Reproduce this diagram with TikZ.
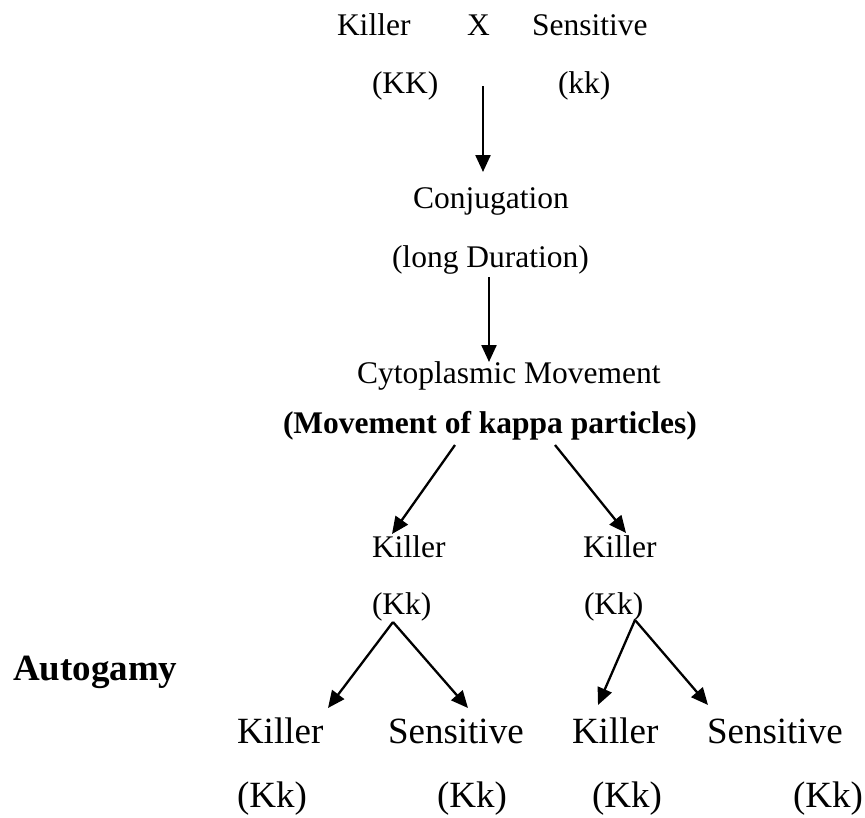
\documentclass[tikz,border=0pt]{standalone}
\usepackage{fontspec}
\setmainfont{Liberation Serif}
\usetikzlibrary{arrows.meta}
\begin{document}
\begin{tikzpicture}[x=1pt,y=-1pt,
  txt/.style={anchor=base west,inner sep=0pt,outer sep=0pt,font=\fontsize{31.5}{36}\selectfont},
  btxt/.style={anchor=base west,inner sep=0pt,outer sep=0pt,font=\fontsize{31.5}{36}\selectfont\bfseries},
  bigtxt/.style={anchor=base west,inner sep=0pt,outer sep=0pt,font=\fontsize{37}{42}\selectfont},
  bigbold/.style={anchor=base west,inner sep=0pt,outer sep=0pt,font=\fontsize{37}{42}\selectfont\bfseries},
  arr/.style={draw=black,line width=2.3pt,-{Triangle[length=17pt,width=15pt]}}]
\useasboundingbox (0,0) rectangle (865,817);
% top
\node[txt] (k0) at (337,35) {Killer};
\node[txt] (x0) at (467,35) {X};
\node[txt] (s0) at (532,35) {Sensitive};
\node[txt] (KK) at (372,93) {(KK)};
\node[txt] (kk) at (558,93) {(kk)};
\node[txt] (conj) at (413,208) {Conjugation};
\node[txt] (dur) at (392,267) {(long Duration)};
\node[txt] (cyto) at (357,383) {Cytoplasmic Movement};
\node[btxt] (kappa) at (283,433) {(Movement of kappa particles)};
% middle
\node[txt] (kL) at (372,557) {Killer};
\node[txt] (kR) at (583,557) {Killer};
\node[txt] (gL) at (372,614) {(Kk)};
\node[txt] (gR) at (584,614) {(Kk)};
\node[bigbold] (auto) at (13,680) {Autogamy};
% bottom
\node[bigtxt] (b1) at (237,743) {Killer};
\node[bigtxt] (b2) at (388,743) {Sensitive};
\node[bigtxt] (b3) at (572,743) {Killer};
\node[bigtxt] (b4) at (707,743) {Sensitive};
\node[bigtxt] (c1) at (237,807) {(Kk)};
\node[bigtxt] (c2) at (437,807) {(Kk)};
\node[bigtxt] (c3) at (592,807) {(Kk)};
\node[bigtxt] (c4) at (793,807) {(Kk)};
% connector ends
\coordinate (a1s) at (483,86);  \coordinate (a1e) at (483,172);
\coordinate (a2s) at (489,277); \coordinate (a2e) at (489,362);
\coordinate (a3s) at (455,445); \coordinate (a3e) at (392,534);
\coordinate (a4s) at (555,445); \coordinate (a4e) at (626,533);
\coordinate (pL) at (393,622);
\coordinate (a5e) at (328,708); \coordinate (a6e) at (468,708);
\coordinate (pR) at (635,620);
\coordinate (a7e) at (598,705); \coordinate (a8e) at (708,705);
\draw[arr] (a1s) -- (a1e);
\draw[arr] (a2s) -- (a2e);
\draw[arr] (a3s) -- (a3e);
\draw[arr] (a4s) -- (a4e);
\draw[arr] (pL) -- (a5e);
\draw[arr] (pL) -- (a6e);
\draw[arr] (pR) -- (a7e);
\draw[arr] (pR) -- (a8e);
\end{tikzpicture}
\end{document}
